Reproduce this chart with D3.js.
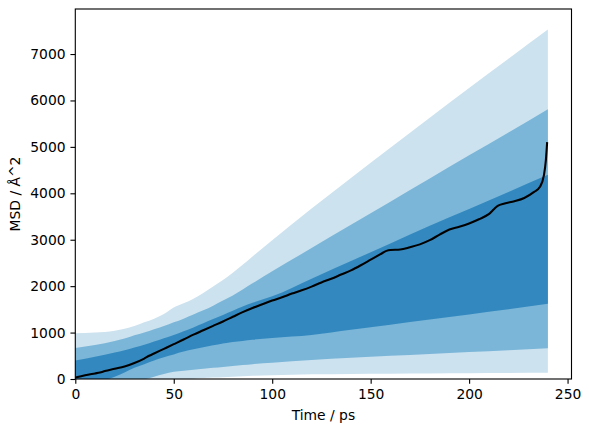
<!DOCTYPE html>
<html>
<head>
<meta charset="utf-8">
<script src="https://cdn.jsdelivr.net/npm/d3@7"></script>
<style>
  html, body { margin: 0; padding: 0; background: #fff; }
  svg { display: block; font-family: "DejaVu Sans", sans-serif; }
</style>
</head>
<body>
<svg id="chart" width="589" height="432"></svg>
<script>
// ---- data ----
const bandTimes = [0,10,20,25,30,35,40,45,50,55,60,65,70,75,80,85,90,100,120,140,160,180,200,220,240];
const lightHi = [985,1000,1040,1080,1140,1220,1300,1400,1540,1630,1730,1850,1990,2130,2290,2460,2640,2990,3670,4330,4980,5630,6270,6900,7530];
const medHi   = [670,730,820,870,940,1000,1070,1140,1220,1300,1390,1480,1580,1690,1800,1930,2060,2320,2820,3320,3820,4320,4820,5310,5810];
const darkHi  = [400,480,570,620,680,740,810,880,950,1030,1110,1200,1290,1380,1470,1560,1640,1780,2160,2540,2920,3300,3660,4030,4400];
const darkLo  = [-300,-100,50,140,240,320,400,470,530,590,640,685,725,765,795,820,845,885,950,1060,1170,1280,1390,1500,1620];
const medLo   = [-600,-400,-220,-150,-80,-10,50,110,155,180,200,220,240,260,280,300,320,350,410,460,500,540,580,620,660];
const lightLo = [-900,-700,-500,-400,-300,-200,-130,-80,-40,-15,5,20,30,40,50,60,70,80,100,110,115,120,125,130,135];

const medianTimes = [0,5,10,12.5,15,20,25,30,35,37.5,40,45,50,55,60,65,70,75,80,85,90,95,100,105,110,115,120,125,130,135,140,145,150,155,158,160,165,170,175,180,185,190,195,200,205,210,214.5,218,223,228,233,236,238,239,239.6];
const medianVals  = [30,80,120,140,170,220,270,345,440,500,550,650,750,850,955,1050,1145,1240,1340,1440,1530,1610,1690,1760,1840,1910,1990,2080,2160,2250,2340,2450,2570,2690,2760,2780,2790,2840,2900,2990,3110,3220,3280,3350,3440,3550,3730,3780,3830,3900,4030,4140,4390,4720,5080];

const xTicks = [0,50,100,150,200,250];
const yTicks = [0,1000,2000,3000,4000,5000,6000,7000];
const xLabel = "Time / ps";
const yLabel = "MSD / Å^2";
const colors = { light: "#cce2ef", medium: "#7bb6d8", dark: "#3389bf", line: "#000000" };

// ---- layout ----
const svg = d3.select("#chart");
const m = { left: 75.3, top: 9, width: 496.2, height: 370 };
const x = d3.scaleLinear().domain([0, 252]).range([m.left, m.left + m.width]);
const y = d3.scaleLinear().domain([0, 7970]).range([m.top + m.height, m.top]);

svg.append("defs").append("clipPath").attr("id", "clip")
  .append("rect").attr("x", m.left).attr("y", m.top).attr("width", m.width).attr("height", m.height);

const plot = svg.append("g").attr("clip-path", "url(#clip)");

function band(lo, hi, color) {
  const data = bandTimes.map((t, i) => ({ t, lo: lo[i], hi: hi[i] }));
  const area = d3.area().x(d => x(d.t)).y0(d => y(d.lo)).y1(d => y(d.hi)).curve(d3.curveMonotoneX);
  plot.append("path").datum(data).attr("d", area).attr("fill", color).attr("stroke", "none");
}
band(lightLo, lightHi, colors.light);
band(medLo, medHi, colors.medium);
band(darkLo, darkHi, colors.dark);

const lineData = medianTimes.map((t, i) => ({ t, v: medianVals[i] }));
plot.append("path").datum(lineData)
  .attr("d", d3.line().x(d => x(d.t)).y(d => y(d.v)).curve(d3.curveMonotoneX))
  .attr("fill", "none").attr("stroke", colors.line).attr("stroke-width", 2.08)
  .attr("stroke-linejoin", "round").attr("stroke-linecap", "square");

// ---- axes ----
const fs = 13.89;
const xAxis = d3.axisBottom(x).tickValues(xTicks).tickFormat(d3.format("d")).tickSize(4.86).tickPadding(4.86);
const yAxis = d3.axisLeft(y).tickValues(yTicks).tickFormat(d3.format("d")).tickSize(4.86).tickPadding(4.86);

const gx = svg.append("g").attr("transform", `translate(0,${m.top + m.height})`).call(xAxis);
const gy = svg.append("g").attr("transform", `translate(${m.left},0)`).call(yAxis);
[gx, gy].forEach(g => {
  g.select(".domain").remove();
  g.selectAll(".tick line").attr("stroke", "#000").attr("stroke-width", 1.11);
  g.selectAll(".tick text").attr("fill", "#000").style("font-size", fs + "px").style("font-family", "DejaVu Sans");
});

// frame
svg.append("rect").attr("x", m.left).attr("y", m.top).attr("width", m.width).attr("height", m.height)
  .attr("fill", "none").attr("stroke", "#000").attr("stroke-width", 1.11);

svg.append("text").attr("x", m.left + m.width / 2).attr("y", 419.5)
  .attr("text-anchor", "middle").style("font-size", fs + "px").text(xLabel);
svg.append("text").attr("transform", `translate(20,${m.top + m.height / 2}) rotate(-90)`)
  .attr("text-anchor", "middle").style("font-size", fs + "px").text(yLabel);
</script>
</body>
</html>
